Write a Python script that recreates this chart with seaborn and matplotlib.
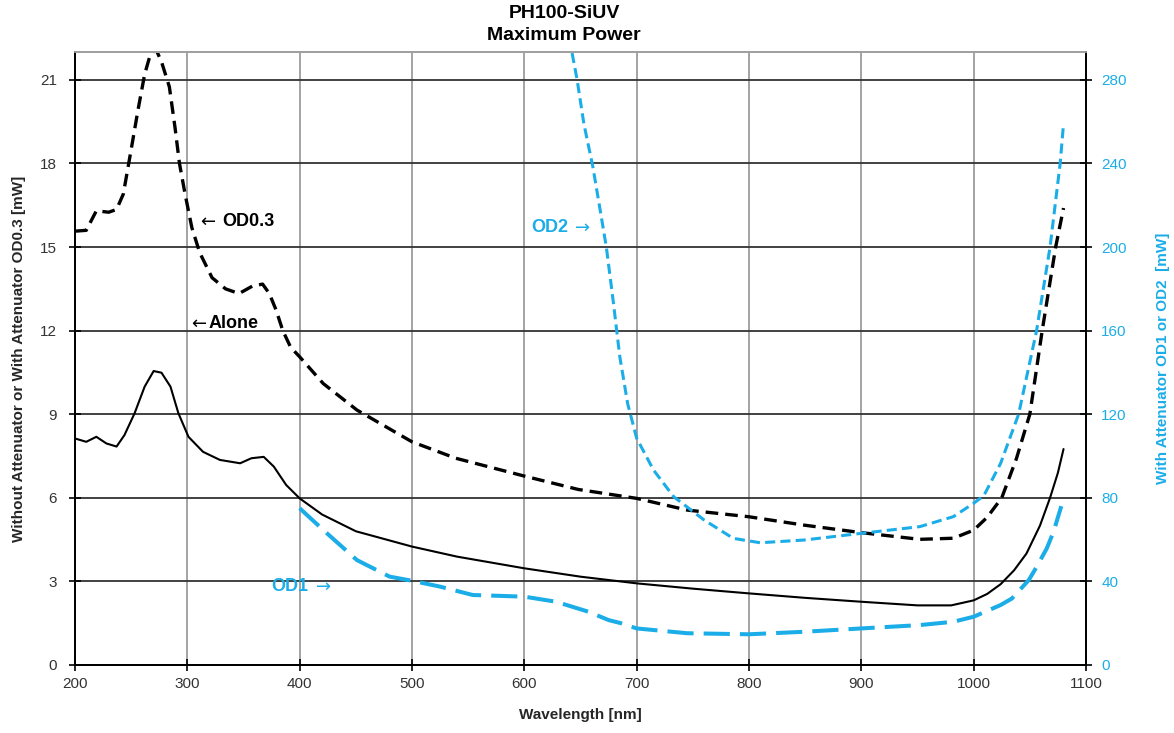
import matplotlib
matplotlib.use("Agg")
import matplotlib.pyplot as plt
import seaborn as sns
import pandas as pd

# ---------------- data ----------------
alone_nm = [200, 210, 219, 228, 237, 244, 253, 262, 270, 277, 285, 292, 301, 314, 329,
            347, 357, 368, 377, 388, 400, 420, 450, 500, 540, 600, 650, 700, 750, 800,
            850, 900, 950, 980, 1000, 1012, 1024, 1036, 1047, 1059, 1068, 1075, 1080]
alone_mw = [8.13, 8.01, 8.19, 7.95, 7.84, 8.25, 9.03, 9.99, 10.55, 10.49, 9.99, 9.04, 8.19,
            7.65, 7.36, 7.24, 7.42, 7.47, 7.12, 6.46, 5.98, 5.40, 4.80, 4.25, 3.89, 3.47,
            3.17, 2.93, 2.74, 2.57, 2.41, 2.27, 2.14, 2.14, 2.32, 2.55, 2.90, 3.40, 4.00,
            5.00, 6.00, 6.90, 7.75]

od03_nm = [200, 210, 219, 230, 237, 243, 250, 256, 262, 267, 272, 277, 284, 289, 293, 298,
           304, 311, 322, 334, 346, 358, 367, 373, 379, 385, 392, 400, 421, 451, 500, 539,
           600, 648, 700, 745, 800, 849, 900, 952, 982, 1000, 1012, 1025, 1038, 1050, 1061,
           1073, 1080]
od03_mw = [15.57, 15.60, 16.30, 16.25, 16.35, 16.90, 18.50, 19.90, 21.20, 21.90, 22.10,
           21.65, 20.75, 19.30, 18.00, 16.90, 15.70, 14.80, 13.90, 13.50, 13.33, 13.60,
           13.67, 13.33, 12.74, 12.00, 11.40, 11.06, 10.10, 9.15, 8.01, 7.42, 6.78, 6.30,
           5.98, 5.56, 5.32, 5.02, 4.75, 4.51, 4.55, 4.84, 5.30, 6.00, 7.40, 9.00, 12.00,
           15.00, 16.40]

od1_nm = [400, 421, 451, 480, 500, 525, 554, 600, 628, 657, 675, 686, 700, 745, 800, 849,
          900, 952, 982, 1000, 1024, 1034, 1049, 1055, 1065, 1071, 1078]
od1_mw = [75, 64.6, 50.2, 42.3, 40.3, 37.5, 33.5, 32.7, 30.3, 25.5, 21.5, 20.0, 17.5, 15.2,
          14.7, 15.9, 17.5, 19.1, 20.7, 23.1, 28.7, 31.8, 40.6, 46.0, 55.7, 63.6, 76.0]

od2_nm = [640, 647, 653, 661, 667, 673, 679, 685, 692, 700, 715, 733, 760, 786, 810, 849,
          900, 952, 982, 1000, 1009, 1024, 1040, 1056, 1068, 1077, 1080]
od2_mw = [300, 280, 259, 238.4, 219.3, 200, 174.6, 147.5, 125, 108.5, 93.3, 80.5, 69.4,
          60.6, 58.5, 59.8, 63, 66.2, 71, 77.4, 81, 96.5, 120, 160, 200, 240, 259]

x_ticks = [200, 300, 400, 500, 600, 700, 800, 900, 1000, 1100]
left_ticks = [0, 3, 6, 9, 12, 15, 18, 21]
right_ticks = [0, 40, 80, 120, 160, 200, 240, 280]

title_lines = ["PH100-SiUV", "Maximum Power"]
x_label = "Wavelength [nm]"
left_label = "Without Attenuator or With Attenuator OD0.3 [mW]"
right_label = "With Attenuator OD1 or OD2  [mW]"

# ---------------- style ----------------
sns.set_theme(style="white")
plt.rcParams["font.family"] = ["Liberation Sans", "DejaVu Sans"]

CYAN = "#1BADE8"
W, H = 1174, 733
fig = plt.figure(figsize=(W / 100, H / 100), dpi=100)
ax = fig.add_axes([75 / W, 1 - 665 / H, (1086 - 75) / W, (665 - 52) / H])
ax2 = ax.twinx()

df_alone = pd.DataFrame({"nm": alone_nm, "mw": alone_mw})
df_od03 = pd.DataFrame({"nm": od03_nm, "mw": od03_mw})
df_od1 = pd.DataFrame({"nm": od1_nm, "mw": od1_mw})
df_od2 = pd.DataFrame({"nm": od2_nm, "mw": od2_mw})

sns.lineplot(data=df_alone, x="nm", y="mw", ax=ax, color="black", lw=1.5)
sns.lineplot(data=df_od03, x="nm", y="mw", ax=ax, color="black", lw=2.4,
             linestyle=(0, (3.8, 2.1)))
sns.lineplot(data=df_od1, x="nm", y="mw", ax=ax2, color=CYAN, lw=2.9,
             linestyle=(0, (6.5, 2.5)))
sns.lineplot(data=df_od2, x="nm", y="mw", ax=ax2, color=CYAN, lw=2.2,
             linestyle=(0, (3.3, 1.7)))

ax.set_xlim(200, 1100)
ax.set_ylim(0, 22)
ax2.set_ylim(0, 22 * 40 / 3)
ax.set_xticks(x_ticks)
ax.set_yticks(left_ticks)
ax2.set_yticks(right_ticks)

ax.set_axisbelow(True)
ax.grid(axis="y", color="#333333", lw=1.3)
ax.grid(axis="x", color="#9c9c9c", lw=1.3)
ax2.grid(False)

for a in (ax, ax2):
    for s in ("left", "bottom", "right"):
        a.spines[s].set_color("black")
        a.spines[s].set_linewidth(1.3)
    a.spines["top"].set_color("#a0a0a0")
    a.spines["top"].set_linewidth(1.3)

ax.tick_params(axis="x", direction="inout", length=8, width=1.2, color="black",
               labelsize=11, labelcolor="#333333", pad=5, bottom=True)
ax.tick_params(axis="y", direction="inout", length=8, width=1.2, color="black",
               labelsize=11, labelcolor="#333333", pad=9, left=True)
ax2.tick_params(axis="y", direction="inout", length=8, width=1.2, color="black",
                labelsize=11, labelcolor=CYAN, pad=7, right=True)

ax.set_xlabel(x_label, fontsize=11, fontweight="bold", labelpad=12)
ax.set_ylabel(left_label, fontsize=11, fontweight="bold", labelpad=10)
ax2.set_ylabel(right_label, fontsize=11, fontweight="bold", color=CYAN, labelpad=21)

# annotations (arrow glyph in DejaVu Sans, words in Liberation Sans)
ARROW_FONT = ["DejaVu Sans"]
lbl = dict(fontsize=13, fontweight="bold", va="center", ha="left")
arr = dict(fontsize=13, va="center", ha="left", family=ARROW_FONT)

ax.text(311, 15.9, "\u2190", color="black", **arr)
ax.text(331, 15.9, "OD0.3", color="black", **lbl)
ax.text(303, 12.24, "\u2190", color="black", **arr)
ax.text(318.5, 12.24, "Alone", color="black", **lbl)
ax.text(606, 15.7, "OD2", color=CYAN, **lbl)
ax.text(645, 15.7, "\u2192", color=CYAN, **arr)
ax.text(375, 2.8, "OD1", color=CYAN, **lbl)
ax.text(414.5, 2.8, "\u2192", color=CYAN, **arr)

fig.text(564 / W, 1 - 13 / H, title_lines[0], fontsize=14, fontweight="bold",
         ha="center", va="center", color="black")
fig.text(564 / W, 1 - 35 / H, title_lines[1], fontsize=14, fontweight="bold",
         ha="center", va="center", color="black")

fig.savefig("out.png", dpi=100, facecolor="white")
